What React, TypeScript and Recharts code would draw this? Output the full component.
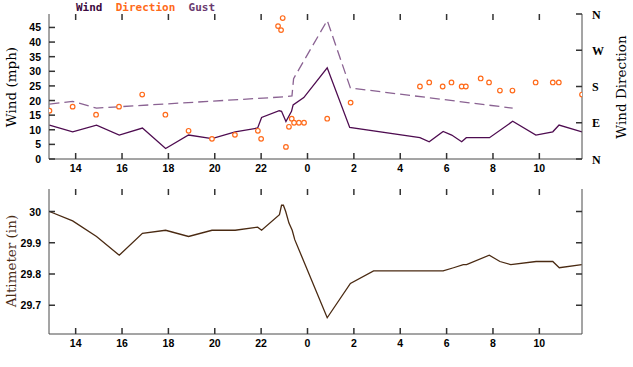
import React from 'react'
import { ComposedChart, LineChart, Line, Scatter, XAxis, YAxis } from 'recharts'

// time in hours since midnight of day 1 (24+ = next day)
const hourTicks = [14, 16, 18, 20, 22, 24, 26, 28, 30, 32, 34]

const windTimes = [12.87, 13.87, 14.9, 15.88, 16.88, 17.88, 18.87, 19.88, 20.88, 21.85, 22.02, 22.78, 22.88, 23.07, 23.31, 23.38, 23.84, 24.85, 25.82, 28.85, 29.25, 29.85, 30.22, 30.65, 30.85, 31.85, 32.85, 33.85, 34.58, 34.85, 35.84]
const windSpeed = [11.6, 9.3, 11.6, 8.2, 10.6, 3.6, 8.2, 7, 9.3, 10.6, 14.2, 16.5, 16.3, 12.8, 16.3, 18.5, 21, 31.2, 10.8, 7.3, 5.9, 9.4, 8.2, 5.9, 7.3, 7.3, 12.9, 8.2, 9.3, 11.6, 9.3]

const gustTimes = [12.87, 13.87, 14.9, 23.07, 23.33, 23.4, 24.85, 25.85, 32.85]
const gustSpeed = [18.8, 19.7, 17.4, 21.3, 21.6, 27.5, 47.4, 24.3, 17.4]

const dirTimes = [12.87, 13.87, 14.88, 15.87, 16.87, 17.87, 18.87, 19.88, 20.87, 21.86, 22.0, 22.73, 22.86, 22.93, 23.07, 23.2, 23.32, 23.42, 23.63, 23.85, 24.85, 25.86, 28.85, 29.25, 29.83, 30.21, 30.65, 30.83, 31.47, 31.83, 32.3, 32.84, 33.84, 34.58, 34.84, 35.84]
const dirDegrees = [120, 130, 110, 130, 160, 110, 70, 50, 60, 70, 50, 330, 320, 350, 30, 80, 100, 90, 90, 90, 100, 140, 180, 190, 180, 190, 180, 180, 200, 190, 170, 170, 190, 190, 190, 160]

const altTimes = [12.87, 13.87, 14.9, 15.88, 16.88, 17.88, 18.87, 19.88, 20.88, 21.85, 22.02, 22.79, 22.88, 22.96, 23.06, 23.2, 23.34, 23.45, 24.85, 25.85, 26.85, 27.85, 28.85, 29.85, 30.3, 30.72, 30.86, 31.84, 32.3, 32.77, 33.86, 34.58, 34.86, 35.83]
const altValues = [30.0, 29.97, 29.92, 29.86, 29.93, 29.94, 29.92, 29.94, 29.94, 29.95, 29.94, 29.99, 30.02, 30.02, 30.0, 29.963, 29.94, 29.91, 29.66, 29.77, 29.81, 29.81, 29.81, 29.81, 29.82, 29.83, 29.83, 29.86, 29.84, 29.83, 29.84, 29.84, 29.82, 29.83]

const windTicks = [0, 5, 10, 15, 20, 25, 30, 35, 40, 45]
const dirTicks = [0, 90, 180, 270, 360]
const dirLabels = ['N', 'E', 'S', 'W', 'N']
const altTicks = [29.7, 29.8, 29.9, 30]

const windData = windTimes.map((t, i) => ({ t, wind: windSpeed[i] }))
const gustData = gustTimes.map((t, i) => ({ t, gust: gustSpeed[i] }))
const dirData = dirTimes.map((t, i) => ({ t, dir: dirDegrees[i] }))
const altData = altTimes.map((t, i) => ({ t, alt: altValues[i] }))

const X_DOMAIN: [number, number] = [12.85, 35.84]
const WIND_DOMAIN: [number, number] = [0, 49.6]
const DIR_DOMAIN: [number, number] = [0, 360]
const ALT_DOMAIN: [number, number] = [29.608, 30.072]

// plot frame geometry (matches chart margins / axis sizes below)
const PLOT_LEFT = 49
const PLOT_W = 533
const PLOT_H = 145
const TOP_PLOT_Y = 14
const BOT_CHART_Y = 180
const BOT_PLOT_Y = BOT_CHART_Y + 9

const FRAME = '#4a4a4a'
const GAP = 10
const numFont = { fontSize: 10.5, fontWeight: 700, fontFamily: 'Liberation Sans, sans-serif' }
const dirFont = { fontSize: 12, fontWeight: 700, fontFamily: 'Liberation Serif, serif' }
const titleFont = { fontFamily: 'DejaVu Serif, serif', fontSize: 13.5 }

const hourLabel = (v: number) => String(Math.round(v) % 24)

function makeLabel(side: 'bottom' | 'left' | 'right', fmt: (v: number) => string, font: any = numFont) {
  return (props: any) => {
    const x = Number(props.x)
    const y = Number(props.y)
    const v = props.payload.value
    if (side === 'bottom')
      return <text x={x} y={y + 3} textAnchor="middle" fill="#000" {...font}>{fmt(v)}</text>
    if (side === 'left')
      return <text x={x + 2} y={y + 4} textAnchor="end" fill="#000" {...font}>{fmt(v)}</text>
    return <text x={x} y={y + 4.5} textAnchor="start" fill="#000" {...font}>{fmt(v)}</text>
  }
}

// inward tick marks on all four sides of a plot frame
function FrameTicks({ top, leftTicks, leftDomain, rightTicks, rightDomain }: {
  top: number
  leftTicks: number[]
  leftDomain: [number, number]
  rightTicks: number[]
  rightDomain: [number, number]
}) {
  const len = 6
  const sx = (t: number) => PLOT_LEFT + ((t - X_DOMAIN[0]) / (X_DOMAIN[1] - X_DOMAIN[0])) * PLOT_W
  const sy = (v: number, d: [number, number]) => top + PLOT_H - ((v - d[0]) / (d[1] - d[0])) * PLOT_H
  const right = PLOT_LEFT + PLOT_W
  const bottom = top + PLOT_H
  return (
    <svg width={633} height={367} style={{ position: 'absolute', left: 0, top: 0, pointerEvents: 'none', zIndex: 5 }}>
      {hourTicks.map((t) => (
        <rect key={`b${t}`} x={sx(t) - 0.75} y={bottom - len} width={1.5} height={len} fill="#333" />
      ))}
      {hourTicks.map((t) => (
        <rect key={`t${t}`} x={sx(t) - 0.75} y={top} width={1.5} height={len} fill="#333" />
      ))}
      {leftTicks.map((v) => (
        <rect key={`l${v}`} x={PLOT_LEFT} y={sy(v, leftDomain) - 0.75} width={len} height={1.5} fill="#333" />
      ))}
      {rightTicks.map((v) => (
        <rect key={`r${v}`} x={right - len} y={sy(v, rightDomain) - 0.75} width={len} height={1.5} fill="#333" />
      ))}
    </svg>
  )
}

const Ring = (props: any) => {
  const { cx, cy } = props
  if (cx == null || cy == null) return null
  return <circle cx={cx} cy={cy} r={2.3} fill="#fff" stroke="#ff6a1a" strokeWidth={1.2} />
}

function VTitle({ text, x, y, color = '#000' }: { text: string; x: number; y: number; color?: string }) {
  return (
    <div
      style={{
        position: 'absolute',
        left: x,
        top: y,
        transform: 'translate(-50%, -50%) rotate(-90deg)',
        whiteSpace: 'nowrap',
        color,
        ...titleFont,
      }}
    >
      {text}
    </div>
  )
}

const axis = { stroke: FRAME, tickLine: false, tickSize: 0, tickMargin: GAP, interval: 0 as const, allowDataOverflow: true }

export default function App() {
  return (
    <div style={{ position: 'absolute', left: 0, top: 0, width: 633, height: 367, background: '#fff', overflow: 'hidden' }}>
      <div style={{ position: 'absolute', left: 0, top: 0 }}>
        <ComposedChart width={633} height={180} margin={{ top: TOP_PLOT_Y, right: 0, bottom: 0, left: 0 }}>
          <XAxis {...axis} dataKey="t" type="number" domain={X_DOMAIN} ticks={hourTicks} height={21} tick={makeLabel('bottom', hourLabel)} />
          <XAxis {...axis} xAxisId="top" orientation="top" type="number" domain={X_DOMAIN} ticks={hourTicks} height={0} tick={false} />
          <YAxis {...axis} yAxisId="left" type="number" domain={WIND_DOMAIN} ticks={windTicks} width={PLOT_LEFT} tick={makeLabel('left', (v) => String(v))} />
          <YAxis
            {...axis}
            yAxisId="right"
            orientation="right"
            type="number"
            domain={DIR_DOMAIN}
            ticks={dirTicks}
            width={51}
            tick={makeLabel('right', (v) => dirLabels[dirTicks.indexOf(v)], dirFont)}
          />
          <Line
            data={gustData}
            yAxisId="left"
            dataKey="gust"
            stroke="#8a6292"
            strokeWidth={1.3}
            strokeDasharray="10 5"
            dot={false}
            isAnimationActive={false}
          />
          <Line
            data={windData}
            yAxisId="left"
            dataKey="wind"
            stroke="#4e0c50"
            strokeWidth={1.3}
            dot={false}
            isAnimationActive={false}
          />
          <Scatter data={dirData} yAxisId="right" dataKey="dir" shape={Ring} isAnimationActive={false} />
        </ComposedChart>
      </div>

      <div style={{ position: 'absolute', left: 0, top: BOT_CHART_Y }}>
        <LineChart data={altData} width={633} height={187} margin={{ top: BOT_PLOT_Y - BOT_CHART_Y, right: 0, bottom: 0, left: 0 }}>
          <XAxis {...axis} dataKey="t" type="number" domain={X_DOMAIN} ticks={hourTicks} height={33} tick={makeLabel('bottom', hourLabel)} />
          <XAxis {...axis} xAxisId="top" orientation="top" type="number" domain={X_DOMAIN} ticks={hourTicks} height={0} tick={false} />
          <YAxis
            {...axis}
            yAxisId="alt"
            type="number"
            domain={ALT_DOMAIN}
            ticks={altTicks}
            width={PLOT_LEFT}
            tick={makeLabel('left', (v) => (v === 30 ? '30' : v.toFixed(1)))}
          />
          <YAxis {...axis} yAxisId="altR" orientation="right" type="number" domain={ALT_DOMAIN} ticks={altTicks} width={51} tick={false} />
          <Line yAxisId="alt" dataKey="alt" stroke="#4a2a12" strokeWidth={1.3} dot={false} isAnimationActive={false} />
        </LineChart>
      </div>

      <FrameTicks top={TOP_PLOT_Y} leftTicks={windTicks} leftDomain={WIND_DOMAIN} rightTicks={dirTicks} rightDomain={DIR_DOMAIN} />
      <FrameTicks top={BOT_PLOT_Y} leftTicks={altTicks} leftDomain={ALT_DOMAIN} rightTicks={altTicks} rightDomain={ALT_DOMAIN} />

      <div
        style={{
          position: 'absolute',
          left: 76,
          top: 1,
          fontFamily: 'DejaVu Sans Mono, monospace',
          fontWeight: 700,
          fontSize: 11,
          whiteSpace: 'pre',
        }}
      >
        <span style={{ color: '#3c0a40' }}>Wind</span>
        <span>  </span>
        <span style={{ color: '#ff6a1a' }}>Direction</span>
        <span>  </span>
        <span style={{ color: '#6a3a70' }}>Gust</span>
      </div>

      <VTitle text="Wind (mph)" x={11} y={87} />
      <VTitle text="Wind Direction" x={621} y={87} />
      <VTitle text="Altimeter (in)" x={11} y={261} color="#4a2c14" />
    </div>
  )
}
